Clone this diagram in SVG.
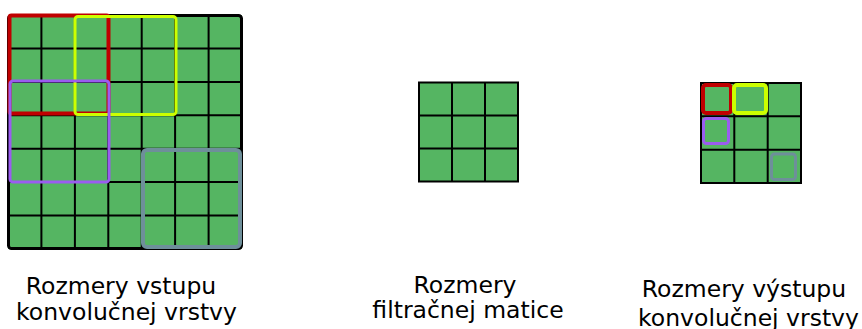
<svg xmlns="http://www.w3.org/2000/svg" width="862" height="329" viewBox="0 0 862 329">
<style>
.grid{stroke:#000;stroke-width:2;fill:none}
.out{fill:none;stroke:#000;stroke-width:3}
.lbl{font-family:"DejaVu Sans",sans-serif;font-size:23.5px;fill:#000;text-anchor:middle}
.red{fill:none;stroke:#c00000}
.yel{fill:none;stroke:#ccff00}
.pur{fill:none;stroke:#9a5cf0}
.gry{fill:none;stroke:#6e8f9a}
</style>
<g id="input-layer">
<rect x="8" y="15" width="234" height="234" fill="#55b562"/>
<path class="grid" d="M41.4 15V249M74.9 15V249M108.3 15V249M141.7 15V249M175.1 15V249M208.6 15V249M8 48.4H242M8 81.9H242M8 115.3H242M8 148.7H242M8 182.1H242M8 215.6H242"/>
<rect class="out" x="8.5" y="15.5" width="233" height="233" rx="3"/>
<rect class="red" x="9.5" y="15.5" width="99" height="98" rx="2" stroke-width="4"/>
<rect class="yel" x="75" y="16.5" width="101" height="98" rx="3" stroke-width="3"/>
<rect class="pur" x="10" y="81" width="99" height="101" rx="3" stroke-width="3"/>
<rect class="gry" x="143" y="150" width="97" height="97" rx="4" stroke-width="4"/>
</g>
<g id="filter">
<rect x="419" y="82.5" width="99" height="99" fill="#55b562"/>
<path class="grid" d="M452 82.5V181.5M485 82.5V181.5M419 115.5H518M419 148.5H518"/>
<rect x="419" y="82.5" width="99" height="99" fill="none" stroke="#000" stroke-width="2"/>
</g>
<g id="output">
<rect x="701" y="83" width="100" height="100" fill="#55b562"/>
<path class="grid" d="M734.3 83V183M767.7 83V183M701 116.3H801M701 149.7H801"/>
<rect x="701" y="83" width="100" height="100" fill="none" stroke="#000" stroke-width="2"/>
<rect class="red" x="703" y="85" width="28" height="28" rx="3" stroke-width="4"/>
<rect class="yel" x="734" y="85" width="32" height="28" rx="3" stroke-width="4"/>
<rect class="pur" x="703.5" y="118.5" width="25" height="25" rx="3" stroke-width="3"/>
<rect class="gry" x="771.5" y="154" width="24" height="25.5" rx="3" stroke-width="3"/>
</g>
<g id="connectors"></g>
<g id="labels">
<text class="lbl" x="121" y="294">Rozmery vstupu</text>
<text class="lbl" x="126.5" y="320">konvolučnej vrstvy</text>
<text class="lbl" x="465" y="293">Rozmery</text>
<text class="lbl" x="468" y="318">filtračnej matice</text>
<text class="lbl" x="744" y="297">Rozmery výstupu</text>
<text class="lbl" x="748.5" y="326">konvolučnej vrstvy</text>
</g>
</svg>
